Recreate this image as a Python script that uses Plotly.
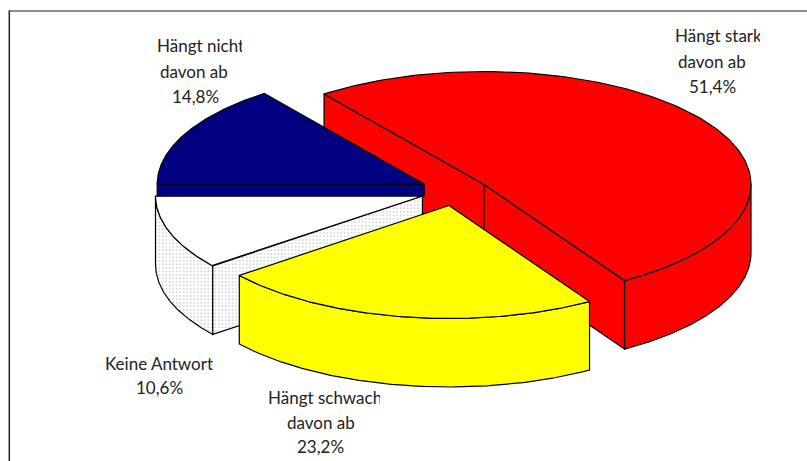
import numpy as np
import plotly.graph_objects as go

# Data
categories = ["Hängt stark davon ab", "Hängt schwach davon ab", "Keine Antwort", "Hängt nicht davon ab"]
values = [51.4, 23.2, 10.6, 14.8]
colors = ["#ff0000", "#ffff00", "#ffffff", "#000080"]
label_lines = [
    ["Hängt stark", "davon ab", "51,4%"],
    ["Hängt schwach", "davon ab", "23,2%"],
    ["Keine Antwort", "10,6%"],
    ["Hängt nicht", "davon ab", "14,8%"],
]

# Projection of the exploded 3-D pie (style, in plot units)
RX, RY, DEPTH = 267.0, 113.0, 68.5
START = 126.8
centers = [(484.0, 184.5), (449.0, 205.5), (422.5, 196.0), (424.2, 184.0)]
label_boxes = [
    [(674, 35, 85), (712, 61, None), (712, 86, None)],
    [(267, 397, 112), (320.5, 422, None), (320.5, 446, None)],
    [(159, 363, None), (159, 387, None)],
    [(156, 45, 85), (193.5, 71, None), (195, 96, None)],
]

sweeps = np.array(values) / sum(values) * 360.0
ends = START - np.cumsum(sweeps)
starts = ends + sweeps


def arc(c, a0, a1, dz=0.0):
    t = np.radians(np.linspace(a0, a1, 160))
    return c[0] + RX * np.cos(t), c[1] - RY * np.sin(t) + dz


def pt(c, a, dz=0.0):
    t = np.radians(a)
    return c[0] + RX * np.cos(t), c[1] - RY * np.sin(t) + dz


fig = go.Figure()


def poly(xs, ys, color, pattern=None):
    xs, ys = np.append(xs, xs[0]), np.append(ys, ys[0])
    kw = {}
    if pattern:
        kw["fillpattern"] = pattern
    fig.add_trace(go.Scatter(x=xs, y=ys, mode="lines", fill="toself", fillcolor=color,
                             line=dict(color="#000000", width=1.2), hoverinfo="skip",
                             showlegend=False, **kw))


def outer_side(c, a0, a1, color, pattern=None):
    x0, y0 = arc(c, a0, a1)
    x1, y1 = arc(c, a1, a0, DEPTH)
    poly(np.r_[x0, x1], np.r_[y0, y1], color, pattern)


def cut_face(c, a, color, pattern=None, depth=DEPTH):
    px, py = pt(c, a)
    poly(np.array([c[0], px, px, c[0]]), np.array([c[1], py, py + depth, c[1] + depth]), color, pattern)


def top(c, a0, a1, color):
    x, y = arc(c, a0, a1)
    poly(np.r_[c[0], x], np.r_[c[1], y], color)


dots = dict(shape=".", bgcolor="#ffffff", fgcolor="#666666", size=3.5, solidity=0.14)

# red
c = centers[0]
outer_side(c, 0, ends[0], colors[0])
cut_face(c, starts[0], colors[0])
cut_face(c, ends[0], colors[0])
top(c, starts[0], ends[0], colors[0])

# navy (flat cut band then top)
c = centers[3]
cut_face(c, starts[3], colors[3], depth=centers[2][1] - c[1])
top(c, starts[3], ends[3], colors[3])

# white / dotted
c = centers[2]
outer_side(c, starts[2], ends[2], "#ffffff", dots)
cut_face(c, starts[2], "#ffffff", dots)
top(c, starts[2], ends[2], colors[2])

# yellow
c = centers[1]
outer_side(c, starts[1], ends[1], colors[1])
top(c, starts[1], ends[1], colors[1])

annotations = []
for lines, boxes in zip(label_lines, label_boxes):
    for text, (x, y, w) in zip(lines, boxes):
        a = dict(x=x, y=y, text=text, showarrow=False, xref="x", yref="y", yanchor="middle",
                 font=dict(family="Lato", size=17, color="#222222"), borderpad=0)
        if w:
            a.update(xanchor="left", align="left", width=w)
        else:
            a.update(xanchor="center", align="center")
        annotations.append(a)

fig.update_layout(
    width=807, height=461, margin=dict(l=0, r=0, t=0, b=0),
    paper_bgcolor="white", plot_bgcolor="white", showlegend=False,
    xaxis=dict(range=[0, 807], visible=False, fixedrange=True),
    yaxis=dict(range=[461, 0], visible=False, fixedrange=True),
    annotations=annotations,
    shapes=[
        dict(type="line", xref="x", yref="y", x0=9, y0=11, x1=807, y1=11,
             line=dict(color="#666666", width=1.5), layer="below"),
        dict(type="line", xref="x", yref="y", x0=9.3, y0=10.5, x1=9.3, y1=461,
             line=dict(color="#222222", width=1.5), layer="below"),
    ],
)
fig.write_html("out.html", config={"displayModeBar": False},
               post_script="document.body.style.margin='0';document.documentElement.style.overflow='hidden';")
